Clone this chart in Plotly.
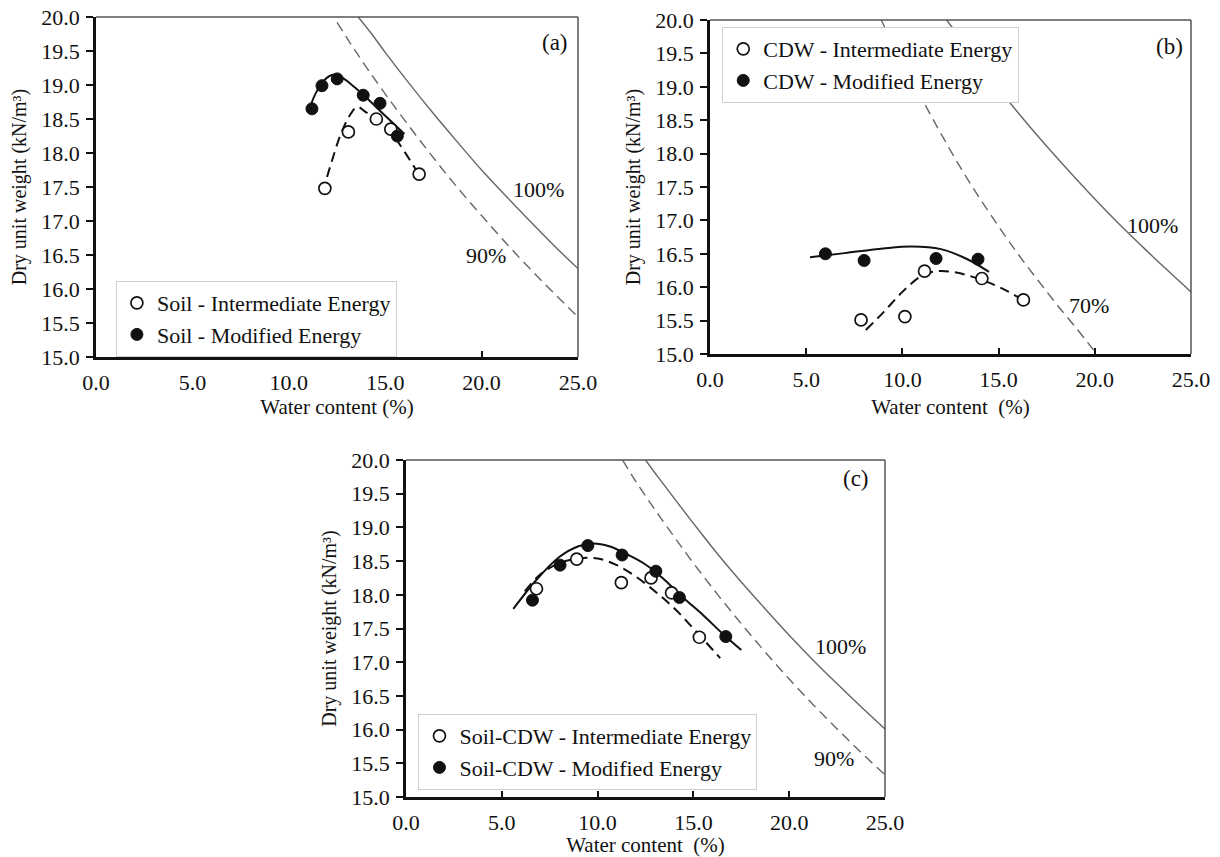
import plotly.graph_objects as go

FONT = "Liberation Serif, Times New Roman, serif"
INK = "#111111"
GRAY = "#666666"

# ---------------- (a) Soil ----------------
soil_int_w = [11.87, 13.09, 14.54, 15.29, 16.76]
soil_int_g = [17.48, 18.31, 18.50, 18.35, 17.69]
soil_mod_w = [11.20, 11.72, 12.51, 13.86, 14.73, 15.63]
soil_mod_g = [18.65, 18.99, 19.09, 18.85, 18.73, 18.25]

soil_int_fit_w = [11.75, 12.2, 12.7, 13.2, 13.55, 14.0, 14.6, 15.3, 16.0, 16.8]
soil_int_fit_g = [17.42, 17.85, 18.28, 18.57, 18.68, 18.60, 18.48, 18.30, 18.02, 17.66]
soil_mod_fit_w = [11.0, 11.4, 11.8, 12.3, 12.8, 13.4, 14.0, 14.7, 15.4, 16.0]
soil_mod_fit_g = [18.60, 18.88, 19.06, 19.15, 19.10, 18.97, 18.82, 18.63, 18.44, 18.28]

soil_s100_w = [13.6, 14.3, 15.0, 16.25, 17.5, 18.75, 20.0, 21.25, 22.5, 23.75, 25.0]
soil_s100_g = [20.0, 19.75, 19.48, 19.02, 18.58, 18.16, 17.75, 17.37, 17.00, 16.64, 16.30]
soil_s90_w = [12.5, 13.2, 14.0, 15.0, 16.25, 17.5, 18.75, 20.0, 21.25, 22.5, 23.75, 25.0]
soil_s90_g = [19.92, 19.61, 19.27, 18.87, 18.39, 17.93, 17.49, 17.08, 16.68, 16.30, 15.94, 15.59]

# ---------------- (b) CDW ----------------
cdw_int_w = [7.85, 10.13, 11.15, 14.13, 16.29]
cdw_int_g = [15.51, 15.56, 16.24, 16.13, 15.81]
cdw_mod_w = [6.00, 8.01, 11.75, 13.93]
cdw_mod_g = [16.50, 16.40, 16.43, 16.42]

cdw_int_fit_w = [8.1, 9.0, 10.0, 11.0, 11.8, 12.8, 14.0, 15.2, 16.3]
cdw_int_fit_g = [15.36, 15.62, 15.93, 16.17, 16.24, 16.22, 16.12, 15.98, 15.80]
cdw_mod_fit_w = [5.2, 7.0, 9.0, 10.5, 12.0, 13.3, 14.5]
cdw_mod_fit_g = [16.45, 16.51, 16.58, 16.61, 16.57, 16.43, 16.23]

cdw_s100_w = [12.3, 13.0, 14.0, 15.0, 16.25, 17.5, 18.75, 20.0, 21.25, 22.5, 23.75, 25.0]
cdw_s100_g = [20.0, 19.73, 19.34, 18.97, 18.53, 18.11, 17.71, 17.32, 16.95, 16.60, 16.26, 15.93]
cdw_s70_w = [8.9, 9.6, 10.3, 11.2, 12.1, 13.0, 14.0, 15.0, 16.0, 17.0, 18.0, 19.0, 20.1]
cdw_s70_g = [20.0, 19.58, 19.20, 18.72, 18.25, 17.80, 17.34, 16.91, 16.50, 16.12, 15.75, 15.40, 15.00]

# ---------------- (c) Soil-CDW ----------------
mix_int_w = [6.81, 8.91, 11.24, 12.79, 13.86, 15.31]
mix_int_g = [18.09, 18.53, 18.18, 18.25, 18.03, 17.37]
mix_mod_w = [6.60, 8.04, 9.49, 11.28, 13.04, 14.27, 16.69]
mix_mod_g = [17.92, 18.44, 18.73, 18.59, 18.35, 17.96, 17.38]

mix_int_fit_w = [6.2, 7.0, 8.0, 9.0, 10.0, 11.0, 12.0, 13.0, 14.0, 15.0, 16.4]
mix_int_fit_g = [18.05, 18.30, 18.47, 18.54, 18.54, 18.44, 18.27, 18.05, 17.80, 17.50, 17.06]
mix_mod_fit_w = [5.6, 6.8, 8.0, 9.0, 9.8, 10.6, 11.4, 12.5, 13.5, 14.5, 15.5, 16.5, 17.5]
mix_mod_fit_g = [17.79, 18.22, 18.56, 18.72, 18.76, 18.72, 18.62, 18.45, 18.22, 17.95, 17.70, 17.43, 17.18]

mix_s100_w = [12.5, 13.2, 14.0, 15.0, 16.25, 17.5, 18.75, 20.0, 21.25, 22.5, 23.75, 25.0]
mix_s100_g = [20.0, 19.73, 19.43, 19.06, 18.61, 18.19, 17.79, 17.40, 17.03, 16.68, 16.34, 16.01]
mix_s90_w = [11.3, 12.0, 13.0, 14.0, 15.0, 16.25, 17.5, 18.75, 20.0, 21.25, 22.5, 23.75, 25.0]
mix_s90_g = [20.0, 19.68, 19.26, 18.86, 18.47, 18.01, 17.57, 17.15, 16.75, 16.37, 16.01, 15.66, 15.33]

x_title = ["Water content (%)", "Water content \u00a0(%)", "Water content \u00a0(%)"]
y_title = "Dry unit weight (kN/m³)"

panels = [
    dict(tag="(a)", ax="", leg="legend",
         names=["Soil - Intermediate Energy", "Soil - Modified Energy"],
         pts=[(soil_int_w, soil_int_g), (soil_mod_w, soil_mod_g)],
         fits=[(soil_int_fit_w, soil_int_fit_g), (soil_mod_fit_w, soil_mod_fit_g)],
         sat=[(soil_s100_w, soil_s100_g, "solid", "100%", 22.97, 17.47),
              (soil_s90_w, soil_s90_g, "10px,6px", "90%", 20.25, 16.50)],
         tagpos=(23.8, 19.62), xstand=5,
         xdom=[96 / 1220, 578 / 1220], ydom=[1 - 357 / 857, 1 - 17 / 857]),
    dict(tag="(b)", ax="2", leg="legend2",
         names=["CDW - Intermediate Energy", "CDW - Modified Energy"],
         pts=[(cdw_int_w, cdw_int_g), (cdw_mod_w, cdw_mod_g)],
         fits=[(cdw_int_fit_w, cdw_int_fit_g), (cdw_mod_fit_w, cdw_mod_fit_g)],
         sat=[(cdw_s100_w, cdw_s100_g, "solid", "100%", 23.0, 16.92),
              (cdw_s70_w, cdw_s70_g, "10px,6px", "70%", 19.7, 15.73)],
         tagpos=(23.9, 19.6), xstand=9,
         xdom=[710 / 1220, 1191 / 1220], ydom=[1 - 354 / 857, 1 - 20 / 857]),
    dict(tag="(c)", ax="3", leg="legend3",
         names=["Soil-CDW - Intermediate Energy", "Soil-CDW - Modified Energy"],
         pts=[(mix_int_w, mix_int_g), (mix_mod_w, mix_mod_g)],
         fits=[(mix_int_fit_w, mix_int_fit_g), (mix_mod_fit_w, mix_mod_fit_g)],
         sat=[(mix_s100_w, mix_s100_g, "solid", "100%", 22.67, 17.24),
              (mix_s90_w, mix_s90_g, "10px,6px", "90%", 22.32, 15.57)],
         tagpos=(23.5, 19.72), xstand=12,
         xdom=[406 / 1220, 885 / 1220], ydom=[1 - 797 / 857, 1 - 460 / 857]),
]

fig = go.Figure()
annotations = []
shapes = []
layout_axes = {}

for i, p in enumerate(panels):
    xa, ya = "x" + p["ax"], "y" + p["ax"]

    # saturation curves
    for w, g, dash, label, lx, ly in p["sat"]:
        fig.add_trace(go.Scatter(
            x=w, y=g, mode="lines", xaxis=xa, yaxis=ya, showlegend=False,
            line=dict(color=GRAY, width=1.4, dash=dash, shape="spline"),
            hoverinfo="skip"))
        annotations.append(dict(x=lx, y=ly, xref=xa, yref=ya, text=label,
                                showarrow=False, font=dict(family=FONT, size=22, color=INK)))

    # compaction fits
    fw, fg = p["fits"][0]
    fig.add_trace(go.Scatter(
        x=fw, y=fg, mode="lines", xaxis=xa, yaxis=ya, showlegend=False,
        line=dict(color=INK, width=2, dash="10px,6px", shape="spline"), hoverinfo="skip"))
    fw, fg = p["fits"][1]
    fig.add_trace(go.Scatter(
        x=fw, y=fg, mode="lines", xaxis=xa, yaxis=ya, showlegend=False,
        line=dict(color=INK, width=2, shape="spline"), hoverinfo="skip"))

    # measured points
    (iw, ig), (mw, mg) = p["pts"]
    fig.add_trace(go.Scatter(
        x=iw, y=ig, mode="markers", xaxis=xa, yaxis=ya, name=p["names"][0],
        legend=p["leg"], legendgroup=p["leg"] + "i",
        marker=dict(symbol="circle", size=12, color="white", line=dict(color=INK, width=1.7))))
    fig.add_trace(go.Scatter(
        x=mw, y=mg, mode="markers", xaxis=xa, yaxis=ya, name=p["names"][1],
        legend=p["leg"], legendgroup=p["leg"] + "m",
        marker=dict(symbol="circle", size=12, color=INK, line=dict(color=INK, width=1))))

    annotations.append(dict(x=p["tagpos"][0], y=p["tagpos"][1], xref=xa, yref=ya,
                            text=p["tag"], showarrow=False,
                            font=dict(family=FONT, size=23, color=INK)))

    # thin top and right frame
    for x0, y0, x1, y1 in [(0, 1, 1, 1), (1, 0, 1, 1)]:
        shapes.append(dict(type="line", xref=xa + " domain", yref=ya + " domain",
                           x0=x0, y0=y0, x1=x1, y1=y1,
                           line=dict(color="#555555", width=1.5)))

    layout_axes["xaxis" + p["ax"]] = dict(
        domain=p["xdom"], anchor=ya, range=[0, 25], dtick=5, tick0=0, tickformat=".1f",
        showline=True, linecolor=INK, linewidth=2.5, mirror=False,
        ticks="inside", ticklen=6, tickwidth=1.5, tickcolor=INK, ticklabelstandoff=4,
        showgrid=False, zeroline=False, automargin=False,
        tickfont=dict(family=FONT, size=22, color=INK),
        title=dict(text=x_title[i], font=dict(family=FONT, size=21, color=INK),
                   standoff=p["xstand"]))
    layout_axes["yaxis" + p["ax"]] = dict(
        domain=p["ydom"], anchor=xa, range=[15, 20], dtick=0.5, tick0=15, tickformat=".1f",
        showline=True, linecolor=INK, linewidth=2.5, mirror=False,
        ticks="outside", ticklen=7, tickwidth=1.5, tickcolor=INK, ticklabelstandoff=2,
        showgrid=False, zeroline=False, automargin=False,
        tickfont=dict(family=FONT, size=22, color=INK),
        title=dict(text=y_title, font=dict(family=FONT, size=20, color=INK), standoff=10))

legend_style = dict(xanchor="left", yanchor="top", bgcolor="white",
                    bordercolor="#cfcfcf", borderwidth=1, itemwidth=30,
                    font=dict(family=FONT, size=22, color=INK), tracegroupgap=0)

fig.update_layout(
    width=1220, height=857, margin=dict(l=0, r=0, t=0, b=0),
    paper_bgcolor="white", plot_bgcolor="white",
    showlegend=True,
    legend=dict(x=0.095, y=1 - 281 / 857, entrywidth=283, **legend_style),
    legend2=dict(x=0.592, y=1 - 27 / 857, entrywidth=254, **legend_style),
    legend3=dict(x=0.343, y=1 - 714 / 857, entrywidth=338, **legend_style),
    annotations=annotations, shapes=shapes,
    **layout_axes,
)

fig.write_html("out.html")
